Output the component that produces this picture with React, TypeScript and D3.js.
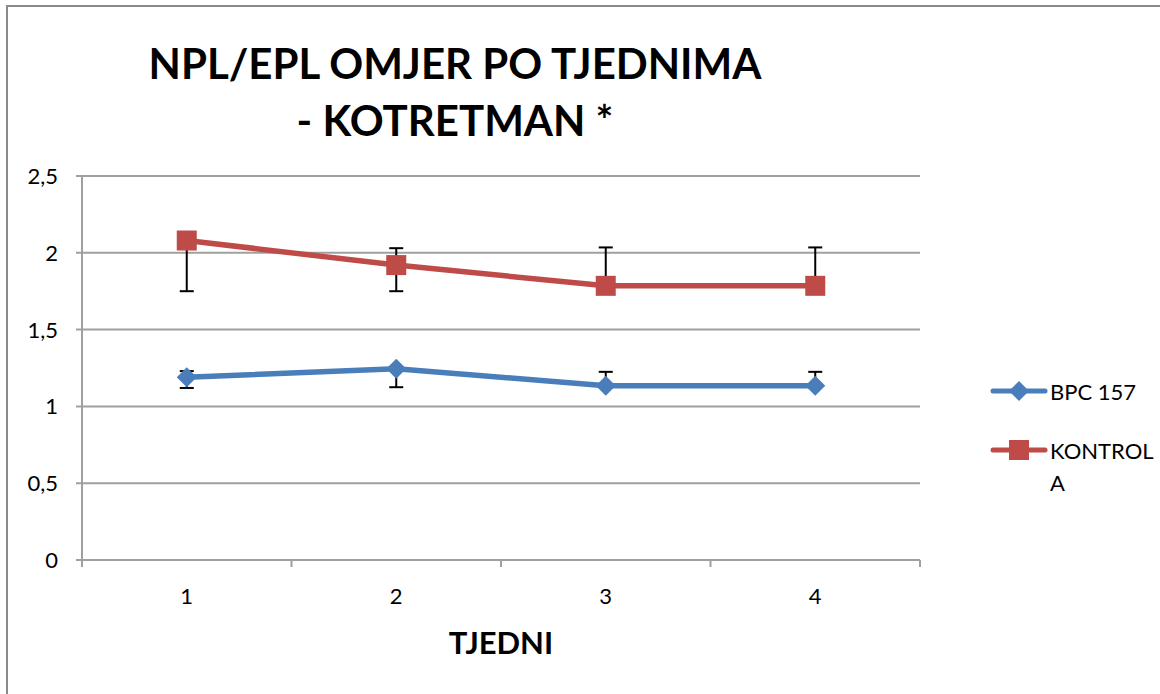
import React from 'react';
import * as d3 from 'd3';

const weeks = ['1', '2', '3', '4'];
const yTicks = [0, 0.5, 1, 1.5, 2, 2.5];

const bpcValues = [1.19, 1.245, 1.135, 1.135];
const bpcErrUp = [0.04, 0, 0.09, 0.09];
const bpcErrDown = [0.07, 0.12, 0, 0];

const kontrolaValues = [2.08, 1.92, 1.785, 1.785];
const kontrolaErrUp = [0, 0.11, 0.25, 0.25];
const kontrolaErrDown = [0.33, 0.17, 0, 0];

const BLUE = '#4a7ebb';
const RED = '#be4b48';
const FONT = 'Lato, "Open Sans", sans-serif';

const W = 1160;
const H = 694;
const margin = { top: 176, right: 240, bottom: 134, left: 82 };

const App: React.FC = () => {
  const x = d3.scaleBand<string>().domain(weeks).range([margin.left, W - margin.right]);
  const y = d3.scaleLinear().domain([0, 2.5]).range([H - margin.bottom, margin.top]);
  const cx = (w: string) => (x(w) as number) + x.bandwidth() / 2;

  const line = d3.line<number>()
    .x((_, i) => cx(weeks[i]))
    .y(d => y(d));

  const series = [
    { name: 'BPC 157', values: bpcValues, up: bpcErrUp, down: bpcErrDown, color: BLUE, shape: 'diamond' },
    { name: 'KONTROLA', values: kontrolaValues, up: kontrolaErrUp, down: kontrolaErrDown, color: RED, shape: 'square' },
  ];

  const x0 = margin.left;
  const x1 = W - margin.right;
  const y0 = y(0);
  const boundaries = weeks.map(w => x(w) as number).concat([x1]);

  const marker = (shape: string, color: string, px: number, py: number, key?: string) =>
    shape === 'diamond' ? (
      <path key={key} d={`M${px},${py - 10}L${px + 10},${py}L${px},${py + 10}L${px - 10},${py}Z`} fill={color} />
    ) : (
      <rect key={key} x={px - 10} y={py - 10} width={20} height={20} fill={color} />
    );

  return (
    <svg width={W} height={H} style={{ display: 'block', position: 'absolute', left: 0, top: 0 }}>
      <rect x={0} y={0} width={W} height={H} fill="#fff" />
      <path d={`M7,${H + 5}V6H${W + 5}`} fill="none" stroke="#898989" strokeWidth={2} />

      <text x={455} y={79} textAnchor="middle" fontFamily={FONT} fontWeight={700} fontSize={42} fill="#000">
        NPL/EPL OMJER PO TJEDNIMA
      </text>
      <text x={455} y={136} textAnchor="middle" fontFamily={FONT} fontWeight={700} fontSize={42} fill="#000">
        - KOTRETMAN *
      </text>

      {yTicks.map(t => (
        <g key={t}>
          <line x1={x0 - 6} x2={x1} y1={y(t)} y2={y(t)} stroke="#a0a0a0" strokeWidth={2} />
          <text x={x0 - 24} y={y(t) + 8} textAnchor="end" fontFamily={FONT} fontSize={22} fill="#000">
            {String(t).replace('.', ',')}
          </text>
        </g>
      ))}
      <line x1={x0} x2={x0} y1={y(2.5)} y2={y0 + 6} stroke="#a0a0a0" strokeWidth={2} />
      {boundaries.map((b, i) => (
        <line key={i} x1={b} x2={b} y1={y0} y2={y0 + 7} stroke="#a0a0a0" strokeWidth={2} />
      ))}
      {weeks.map(w => (
        <text key={w} x={cx(w)} y={y0 + 44} textAnchor="middle" fontFamily={FONT} fontSize={22} fill="#000">
          {w}
        </text>
      ))}
      <text x={501} y={654} textAnchor="middle" fontFamily={FONT} fontWeight={700} fontSize={31} fill="#000">
        TJEDNI
      </text>

      {series.map(s => (
        <g key={s.name}>
          {s.values.map((v, i) => {
            const px = cx(weeks[i]);
            const parts = [];
            if (s.up[i] > 0) {
              parts.push(<line key="u" x1={px} x2={px} y1={y(v)} y2={y(v + s.up[i])} stroke="#000" strokeWidth={2} />);
              parts.push(<line key="uc" x1={px - 7} x2={px + 7} y1={y(v + s.up[i])} y2={y(v + s.up[i])} stroke="#000" strokeWidth={2} />);
            }
            if (s.down[i] > 0) {
              parts.push(<line key="d" x1={px} x2={px} y1={y(v)} y2={y(v - s.down[i])} stroke="#000" strokeWidth={2} />);
              parts.push(<line key="dc" x1={px - 7} x2={px + 7} y1={y(v - s.down[i])} y2={y(v - s.down[i])} stroke="#000" strokeWidth={2} />);
            }
            return <g key={i}>{parts}</g>;
          })}
          <path d={line(s.values) || ''} fill="none" stroke={s.color} strokeWidth={5.5} strokeLinejoin="round" />
          {s.values.map((v, i) => marker(s.shape, s.color, cx(weeks[i]), y(v), String(i)))}
        </g>
      ))}

      <g>
        <line x1={993} x2={1045} y1={391} y2={391} stroke={BLUE} strokeWidth={5} strokeLinecap="round" />
        {marker('diamond', BLUE, 1019, 391)}
        <text x={1050} y={400} fontFamily={FONT} fontSize={22} fill="#000">BPC 157</text>

        <line x1={993} x2={1045} y1={450} y2={450} stroke={RED} strokeWidth={5} strokeLinecap="round" />
        {marker('square', RED, 1019, 450)}
        <text x={1050} y={459} fontFamily={FONT} fontSize={22} fill="#000">KONTROL</text>
        <text x={1050} y={491} fontFamily={FONT} fontSize={22} fill="#000">A</text>
      </g>
    </svg>
  );
};

export default App;
